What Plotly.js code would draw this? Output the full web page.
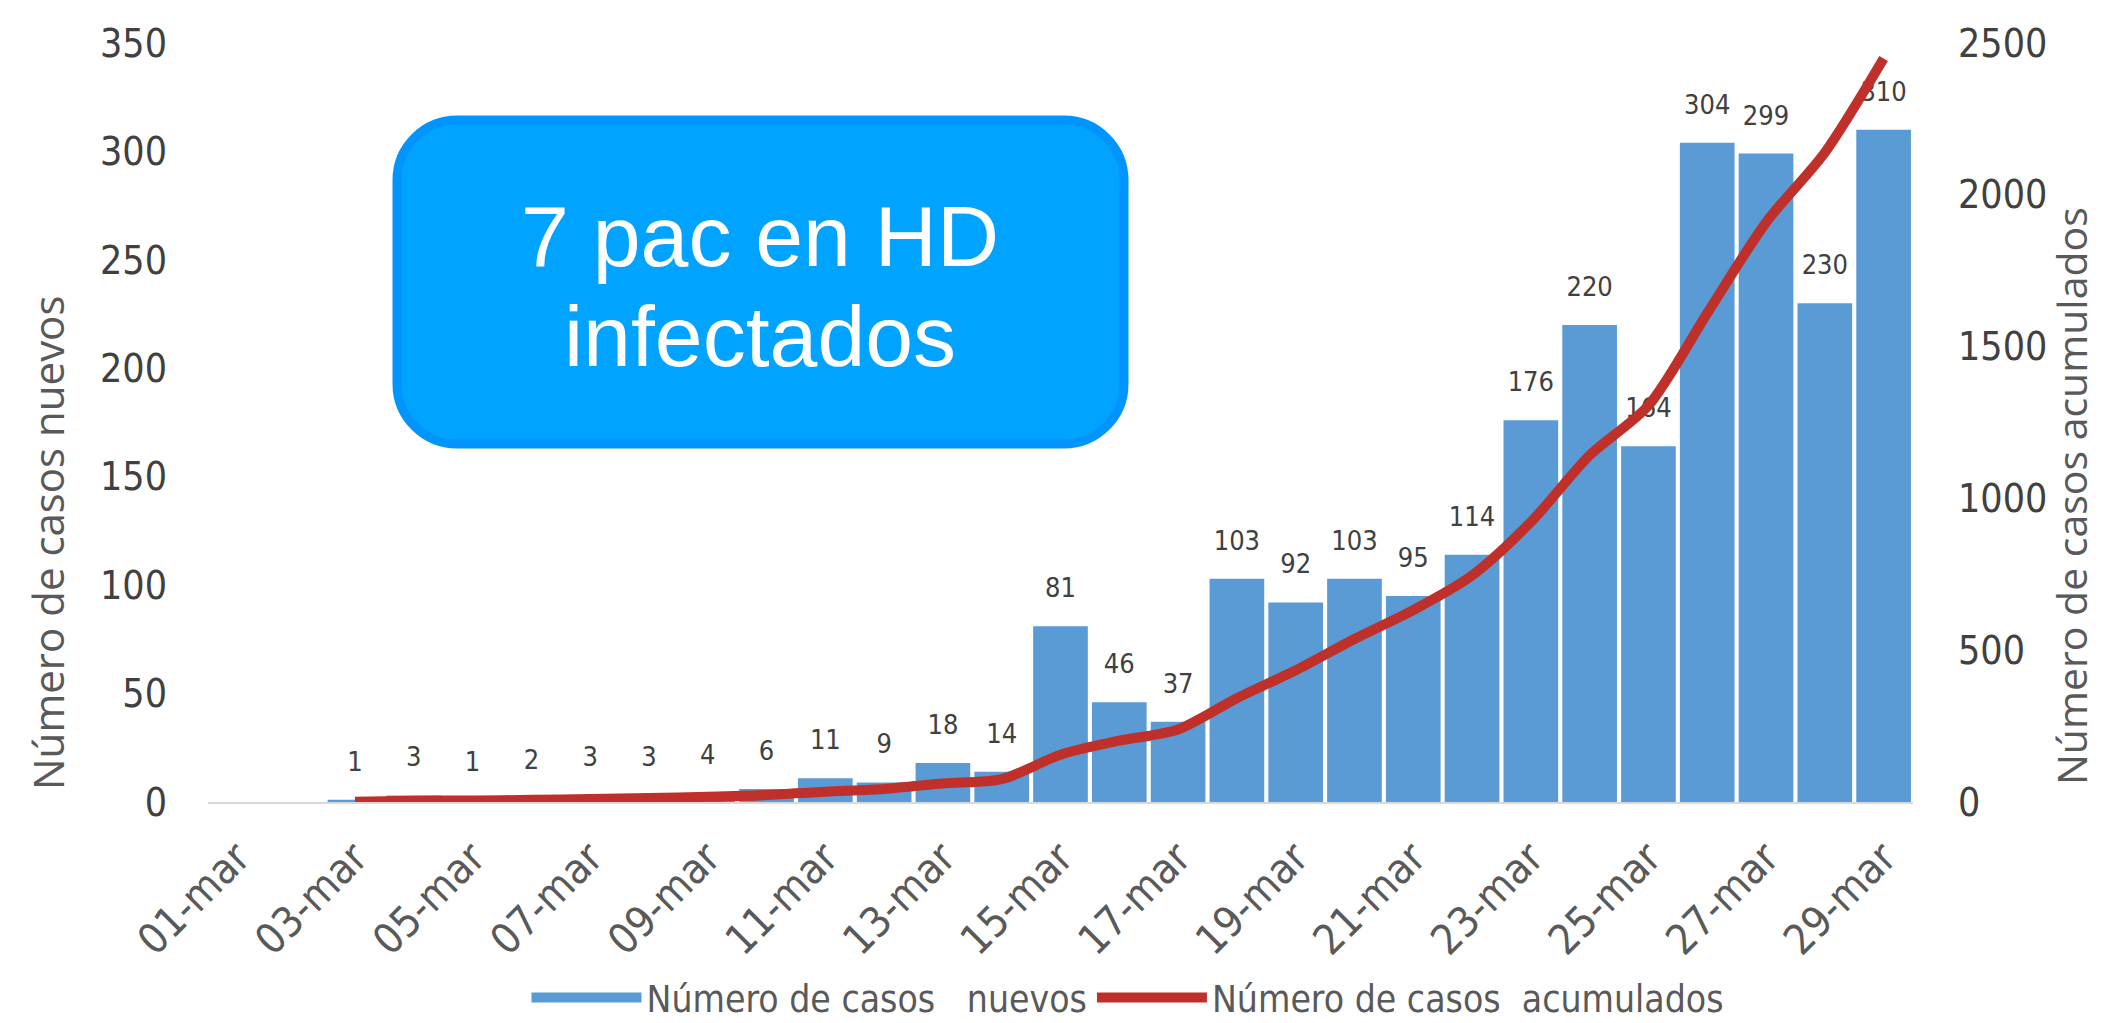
<!DOCTYPE html>
<html>
<head>
<meta charset="utf-8">
<script src="https://cdn.plot.ly/plotly-3.0.1.min.js"></script>
<style>html,body{margin:0;padding:0;background:#fff;}#chart{width:2102px;height:1023px;}</style>
</head>
<body>
<div id="chart"></div>
<script>
// Categories (days of March)
const days = ["01-mar","02-mar","03-mar","04-mar","05-mar","06-mar","07-mar","08-mar","09-mar","10-mar",
  "11-mar","12-mar","13-mar","14-mar","15-mar","16-mar","17-mar","18-mar","19-mar","20-mar",
  "21-mar","22-mar","23-mar","24-mar","25-mar","26-mar","27-mar","28-mar","29-mar"];
// New cases per day
const newCases = [0,0,1,3,1,2,3,3,4,6,11,9,18,14,81,46,37,103,92,103,95,114,176,220,164,304,299,230,310];
// Labels shown above bars
const barLabels = ["","","1","3","1","2","3","3","4","6","11","9","18","14","81","46","37","103","92","103","95","114","176","220","164","304","299","230","310"];
// Cumulative cases (line starts 03-mar)
const cumDays = ["03-mar","04-mar","05-mar","06-mar","07-mar","08-mar","09-mar","10-mar",
  "11-mar","12-mar","13-mar","14-mar","15-mar","16-mar","17-mar","18-mar","19-mar","20-mar",
  "21-mar","22-mar","23-mar","24-mar","25-mar","26-mar","27-mar","28-mar","29-mar"];
const cumCases = [1,4,5,7,10,13,17,23,34,43,61,75,156,202,239,342,434,537,632,746,922,1142,1306,1610,1909,2139,2449];
// Tick labels shown on x axis
const xTicks = ["01-mar","03-mar","05-mar","07-mar","09-mar","11-mar","13-mar","15-mar","17-mar","19-mar","21-mar","23-mar","25-mar","27-mar","29-mar"];
const leftTicks = [0,50,100,150,200,250,300,350];
const rightTicks = [0,500,1000,1500,2000,2500];
const leftTitle = "Número de casos nuevos";
const rightTitle = "Número de casos acumulados";
const seriesNames = ["Número de casos\u00A0\u00A0 nuevos", "Número de casos\u00A0 acumulados"];
const boxLines = ["7 pac en HD", "infectados"];

const W = 2102, H = 1023;
const L = 208, R = 189, T = 43, B = 221;
const pw = W - L - R, ph = H - T - B;
const px = v => (v - L) / pw;
const py = v => (H - B - v) / ph;

const narrow = "'DejaVu Sans Condensed', 'Liberation Sans Narrow', Arial, sans-serif";
const gray = "#595959";
const dark = "#404040";
const barColor = '#5B9BD5';

// rounded rectangle path in paper coords
function roundRect(x0, y0, x1, y1, r) {
  const X0 = px(x0), X1 = px(x1), Y0 = py(y0), Y1 = py(y1);
  const rx = r / pw, ry = r / ph;
  return `M ${X0+rx},${Y0} L ${X1-rx},${Y0} C ${X1-rx*0.45},${Y0} ${X1},${Y0-ry*0.45} ${X1},${Y0-ry} L ${X1},${Y1+ry} C ${X1},${Y1+ry*0.45} ${X1-rx*0.45},${Y1} ${X1-rx},${Y1} L ${X0+rx},${Y1} C ${X0+rx*0.45},${Y1} ${X0},${Y1+ry*0.45} ${X0},${Y1+ry} L ${X0},${Y0-ry} C ${X0},${Y0-ry*0.45} ${X0+rx*0.45},${Y0} ${X0+rx},${Y0} Z`;
}

const traces = [
  {
    type: 'bar', x: days, y: newCases, name: seriesNames[0],
    marker: {color: barColor}, showlegend: false,
    hoverinfo: 'x+y'
  },
  {
    // legend swatch for the bars (wide rectangle like the original)
    type: 'scatter', mode: 'lines', x: [null], y: [null], name: seriesNames[0],
    line: {color: barColor, width: 30}, hoverinfo: 'skip'
  },
  {
    type: 'scatter', mode: 'lines', x: cumDays, y: cumCases, yaxis: 'y2', name: seriesNames[1],
    line: {color: '#C0302A', width: 10, shape: 'spline', smoothing: 0.8}
  },
  {
    // data labels above bars
    type: 'scatter', mode: 'markers+text', x: days, y: newCases, text: barLabels,
    textposition: 'top center', showlegend: false, cliponaxis: false,
    marker: {size: 34, opacity: 0},
    textfont: {family: narrow, size: 27, color: dark},
    hoverinfo: 'skip'
  }
];

const layout = {
  width: W, height: H,
  margin: {l: L, r: R, t: T, b: B},
  paper_bgcolor: '#fff', plot_bgcolor: '#fff',
  bargap: 0.07,
  showlegend: true,
  legend: {orientation: 'h', xref: 'paper', x: px(1128), xanchor: 'center',
    yref: 'container', y: (H - 998) / H, yanchor: 'middle',
    font: {family: narrow, size: 37, color: gray}, itemwidth: 110, traceorder: 'normal'},
  xaxis: {
    type: 'category', categoryorder: 'array', categoryarray: days,
    range: [-0.5, 28.5],
    tickmode: 'array', tickvals: xTicks, ticktext: xTicks, tickangle: -45,
    tickfont: {family: narrow, size: 42, color: gray},
    showline: true, linecolor: '#D9D9D9', linewidth: 2,
    showgrid: false, zeroline: false, ticks: '', ticklabelstandoff: 12
  },
  yaxis: {
    range: [0, 350], tickmode: 'array', tickvals: leftTicks,
    tickfont: {family: narrow, size: 39, color: dark},
    showgrid: false, zeroline: false, showline: false, ticks: '',
    ticklabelstandoff: 40
  },
  yaxis2: {
    overlaying: 'y', side: 'right', range: [0, 2500], tickmode: 'array', tickvals: rightTicks,
    tickfont: {family: narrow, size: 39, color: dark},
    showgrid: false, zeroline: false, showline: false, ticks: '',
    ticklabelstandoff: 44
  },
  shapes: [
    {type: 'path', xref: 'paper', yref: 'paper', path: roundRect(397, 120, 1124, 444, 60),
     fillcolor: '#00A3FF', line: {color: '#0094FF', width: 9}, layer: 'above'}
  ],
  annotations: [
    {xref: 'paper', yref: 'paper', x: px(47), y: py(543), xanchor: 'center', yanchor: 'middle',
     text: leftTitle, textangle: -90,
     showarrow: false, font: {family: "'Open Sans', sans-serif", size: 42, color: gray}},
    {xref: 'paper', yref: 'paper', x: px(2071), y: py(496), xanchor: 'center', yanchor: 'middle',
     text: rightTitle, textangle: -90,
     showarrow: false, font: {family: "'Open Sans', sans-serif", size: 41, color: gray}},
    {xref: 'paper', yref: 'paper', x: px(760), y: py(236), xanchor: 'center', yanchor: 'middle',
     text: boxLines[0], showarrow: false,
     font: {family: "'Liberation Sans', Arial, sans-serif", size: 86, color: '#fff'}},
    {xref: 'paper', yref: 'paper', x: px(760), y: py(336), xanchor: 'center', yanchor: 'middle',
     text: boxLines[1], showarrow: false,
     font: {family: "'Liberation Sans', Arial, sans-serif", size: 86, color: '#fff'}}
  ]
};

Plotly.newPlot('chart', traces, layout, {displayModeBar: false, staticPlot: true});
</script>
</body>
</html>
